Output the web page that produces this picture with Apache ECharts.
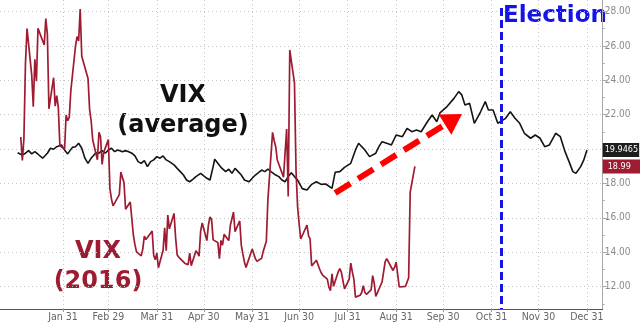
<!DOCTYPE html>
<html><head><meta charset="utf-8">
<script src="https://cdn.jsdelivr.net/npm/echarts@6/dist/echarts.min.js"></script>
<style>html,body{margin:0;padding:0;background:#fff}#c{width:640px;height:325px}</style>
</head><body><div id="c"></div>
<script>
// x = day of year 2016 (Jan 1 = 0)
const xTickDays = [30, 59, 90, 120, 151, 181, 212, 243, 273, 304, 334, 365];
const xTickLabels = ['Jan 31', 'Feb 29', 'Mar 31', 'Apr 30', 'May 31', 'Jun 30', 'Jul 31', 'Aug 31', 'Sep 30', 'Oct 31', 'Nov 30', 'Dec 31'];
const yTickValues = [12, 14, 16, 18, 20, 22, 24, 26, 28];
const yMinorValues = [11, 13, 15, 17, 19, 21, 23, 25, 27];

// VIX seasonal average
const avgDays = [1,4,6,8,10,12,14,17,20,22,24,26,29,31,33,36,38,40,42,44,46,48,51,53,55,57,59,61,63,65,68,70,72,74,76,78,80,82,84,86,88,90,92,94,96,98,101,103,105,107,109,111,113,115,118,120,122,124,126,127,129,131,134,136,138,140,142,144,146,149,151,153,155,157,159,161,163,166,168,170,172,174,176,178,180,183,186,189,192,195,198,202,204,207,210,214,217,219,221,223,226,230,232,234,237,240,243,247,250,253,256,259,263,266,269,271,275,280,283,285,287,290,293,297,300,302,305,308,313,316,319,322,325,329,332,335,338,341,345,348,351,354,356,358,361,363,365];
const avgValues = [19.79,19.66,19.76,19.91,19.72,19.85,19.70,19.47,19.76,20.05,19.99,20.14,20.24,19.95,19.72,20.10,20.14,20.34,20.05,19.47,19.17,19.47,19.79,19.76,19.91,19.76,19.95,20.05,19.85,19.95,19.85,19.91,19.85,19.76,19.60,19.27,19.17,19.33,18.98,19.27,19.37,19.56,19.47,19.60,19.37,19.27,19.08,18.88,18.69,18.49,18.20,18.10,18.24,18.40,18.59,18.44,18.30,18.20,18.98,19.41,19.17,18.94,18.69,18.83,18.59,18.88,18.69,18.49,18.20,18.10,18.30,18.49,18.63,18.78,18.69,18.83,18.69,18.49,18.40,18.20,18.10,18.40,18.63,18.40,18.20,17.70,17.62,17.95,18.10,17.95,17.97,17.72,18.65,18.69,18.94,19.17,19.95,20.34,20.14,19.95,19.56,19.76,20.14,20.43,20.34,20.24,20.82,20.72,21.21,21.01,21.11,21.01,21.59,21.98,21.59,22.10,22.42,22.95,23.34,23.15,22.56,22.66,21.50,22.17,22.76,22.27,22.27,21.50,21.79,22.17,21.79,21.50,20.92,20.63,20.82,20.63,20.14,20.24,20.92,20.72,19.85,19.17,18.69,18.59,18.98,19.37,19.9465];

// VIX 2016
const vixDays = [3,4,5,6,7,10,11,12,13,14,18,19,20,21,24,25,26,27,28,31,32,33,34,35,38,39,40,41,42,46,47,48,49,52,53,54,55,56,59,60,61,62,63,66,67,68,69,70,73,74,75,76,77,80,81,82,83,87,88,89,90,91,94,95,96,97,98,101,102,103,104,105,108,109,110,111,112,115,116,117,118,119,122,123,124,125,126,129,130,131,132,133,136,137,138,139,140,143,144,145,146,147,151,152,153,154,157,158,159,160,161,164,165,166,167,168,171,172,173,174,175,178,179,180,181,182,186,187,188,189,192,193,194,195,196,199,200,201,202,203,206,207,208,209,210,213,214,215,216,217,220,221,222,223,224,227,228,229,230,231,234,235,236,237,238,241,242,243,244,245,249,250,251,252,255];
const vixValues = [20.70,19.34,20.59,24.99,27.01,24.30,22.47,25.22,23.95,27.02,26.05,27.59,26.69,22.34,24.15,22.50,23.11,22.42,20.20,19.98,21.98,21.65,21.84,23.38,26.00,26.54,26.29,28.14,25.40,24.11,22.31,21.64,20.53,19.38,20.98,20.72,19.11,19.81,20.55,17.70,17.09,16.70,16.86,17.35,18.67,18.34,18.05,16.50,16.92,16.84,14.99,14.44,14.02,13.79,14.17,14.94,14.74,15.24,13.82,13.56,13.95,13.10,14.12,15.42,14.09,16.16,15.36,16.26,14.85,13.84,13.72,13.62,13.35,13.24,13.28,13.95,13.22,14.08,13.96,13.77,15.22,15.70,14.68,15.60,16.05,15.91,14.72,14.57,13.63,14.69,14.41,15.04,14.68,15.57,15.95,16.33,15.20,15.82,14.42,13.90,13.43,13.12,14.19,14.20,13.63,13.47,13.65,14.05,14.08,14.64,17.03,20.97,20.50,20.14,19.37,19.41,18.37,18.48,21.17,17.25,25.76,23.85,18.75,16.64,15.63,14.77,15.58,14.96,14.76,13.20,13.54,13.55,13.04,12.82,12.67,12.44,11.97,11.77,12.74,12.02,12.87,13.05,12.83,12.72,11.87,12.44,13.37,12.86,12.42,11.39,11.50,11.66,12.05,11.68,11.55,11.81,12.64,12.19,11.43,11.34,12.27,12.38,13.45,13.63,13.65,12.94,13.12,13.42,13.48,11.98,12.02,11.94,12.51,17.50,18.99];

const electionDay = 310;
const trendFrom = [204, 17.45];
const trendTo = [279.7, 21.73];

const NARROW = '"Liberation Sans Narrow","Arial Narrow","DejaVu Sans Condensed",sans-serif';
const RED = '#9e1b32';

const zip = (a, b) => a.map((d, i) => [d, b[i]]);
const lastAvg = avgValues[avgValues.length - 1];
const lastVix = vixValues[vixValues.length - 1];

const tagLabel = (bg, text, pad) => ({
  show: true, position: 'end', distance: 0, formatter: text,
  backgroundColor: bg, color: '#fff', fontSize: 9, fontFamily: NARROW,
  padding: pad
});

const chart = echarts.init(document.getElementById('c'), null, {renderer: 'canvas'});
chart.setOption({
  animation: false,
  backgroundColor: '#fff',
  grid: {left: 0, right: 37.3, top: 0, bottom: 16, containLabel: false},
  xAxis: {
    type: 'value', min: -10.28, max: 375.08,
    axisLine: {show: true, onZero: false, lineStyle: {color: '#555', width: 1}},
    axisTick: {show: true, customValues: xTickDays, length: 3, lineStyle: {color: '#999'}},
    axisLabel: {customValues: xTickDays, formatter: v => xTickLabels[xTickDays.indexOf(v)] || '',
      color: '#666', fontSize: 10.5, margin: 3, fontFamily: NARROW},
    splitLine: {show: true, lineStyle: {color: '#c4c4c4', type: [1, 3]}}
  },
  yAxis: [{
    type: 'value', position: 'right', min: 10.7, max: 28.67,
    axisLine: {show: true, onZero: false, lineStyle: {color: '#a8a8a8'}},
    axisTick: {show: true, customValues: yTickValues, length: 4, lineStyle: {color: '#a8a8a8'}},
    axisLabel: {customValues: yTickValues, formatter: v => v === 20 ? '' : v.toFixed(2),
      color: '#8a8a8a', fontSize: 10, margin: 2, fontFamily: NARROW},
    splitLine: {show: true, lineStyle: {color: '#c4c4c4', type: [1, 3]}}
  }, {
    type: 'value', position: 'right', min: 10.7, max: 28.67,
    axisLine: {show: false, onZero: false}, axisLabel: {show: false}, splitLine: {show: false},
    axisTick: {show: true, customValues: yMinorValues, length: 2, lineStyle: {color: '#a8a8a8'}}
  }],
  series: [{
    name: 'VIX average', type: 'line', data: zip(avgDays, avgValues), yAxisIndex: 0,
    showSymbol: false, symbol: 'none', z: 2,
    lineStyle: {color: '#141414', width: 1.6},
    markLine: {silent: true, symbol: 'none',
      data: [{yAxis: lastAvg, lineStyle: {color: 'rgba(0,0,0,0)', width: 0},
        label: tagLabel('#1e1e1e', String(lastAvg), [3, 1, 2, 2])}]}
  }, {
    name: 'VIX 2016', type: 'line', data: zip(vixDays, vixValues), yAxisIndex: 0,
    showSymbol: false, symbol: 'none', z: 3,
    lineStyle: {color: RED, width: 1.7},
    markLine: {silent: true, symbol: 'none',
      data: [
        {yAxis: lastVix, lineStyle: {color: 'rgba(0,0,0,0)', width: 0},
          label: tagLabel(RED, lastVix.toFixed(2), [3, 12, 2, 5])},
        [{coord: [electionDay, 28.2], symbol: 'none'}, {coord: [electionDay, 10.7], symbol: 'none',
          lineStyle: {color: '#1414e6', width: 3, type: [8, 4]}, label: {show: false}}],
        [{coord: trendFrom, symbol: 'none'}, {coord: trendTo, symbol: 'triangle', symbolSize: [24, 20],
          lineStyle: {color: '#ff0000', width: 6, type: [18, 9], cap: 'butt'},
          itemStyle: {color: '#ff0000'}, label: {show: false}}]
      ]}
  }],
  graphic: [
    {type: 'text', x: 183, y: 96, style: {text: 'VIX', font: 'bold 24px "DejaVu Sans"', fill: '#111', align: 'center', verticalAlign: 'middle'}},
    {type: 'text', x: 183, y: 126, style: {text: '(average)', font: 'bold 24px "DejaVu Sans"', fill: '#111', align: 'center', verticalAlign: 'middle'}},
    {type: 'text', x: 98, y: 252, style: {text: 'VIX', font: 'bold 24px "DejaVu Sans"', fill: RED, align: 'center', verticalAlign: 'middle'}},
    {type: 'text', x: 98, y: 282, style: {text: '(2016)', font: 'bold 24px "DejaVu Sans"', fill: RED, align: 'center', verticalAlign: 'middle'}},
    {type: 'text', x: 503, y: 16, style: {text: 'Election', font: 'bold 23px "DejaVu Sans"', fill: '#1414e6', align: 'left', verticalAlign: 'middle'}}
  ]
});
</script></body></html>
